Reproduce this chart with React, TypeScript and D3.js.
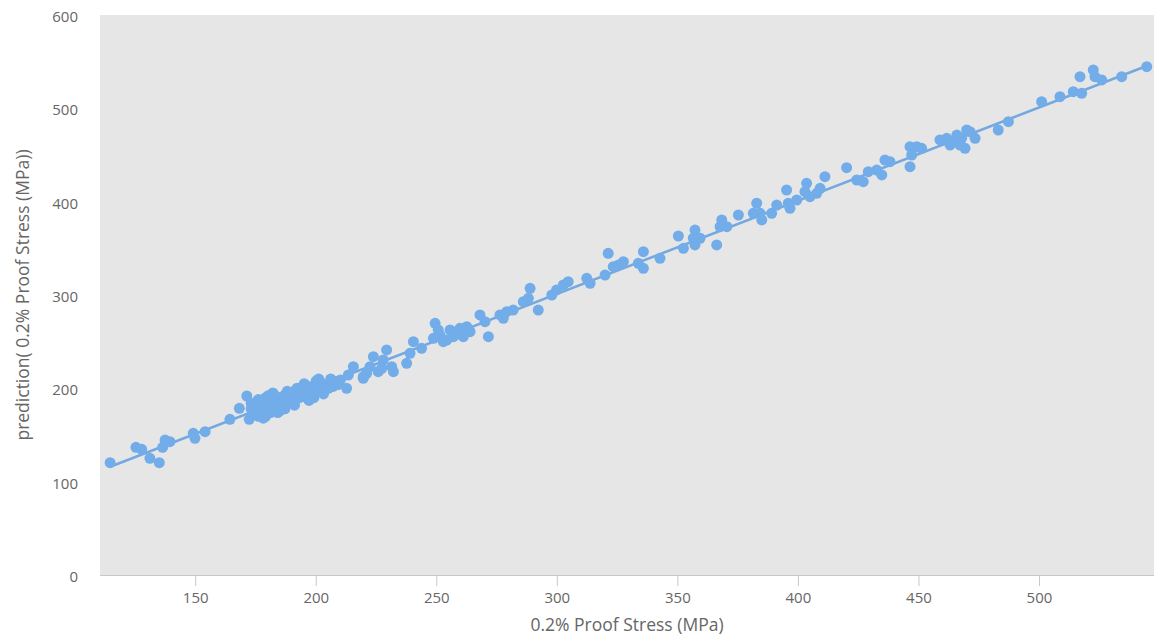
import React from "react";
import * as d3 from "d3";

// 0.2% Proof Stress (MPa) – measured
const actual = [
  114.5, 125.2, 127.6, 131.0, 134.9, 137.3, 136.3, 139.3, 149.0, 149.7, 153.9, 164.2, 168.1, 171.2, 172.2,
  173, 174, 175, 175, 176, 176, 177, 177, 178, 178, 179, 179, 180, 180, 181, 181, 182, 182, 183, 183,
  184, 184, 185, 185, 186, 186, 187, 187, 188, 188, 189, 189, 190, 190, 191, 191, 192, 193, 193, 194,
  195, 195, 196, 196, 197, 198, 198, 199, 200, 200, 201, 202, 202, 203, 204, 205, 206, 207, 208, 209, 210,
  176, 179, 182, 185, 188, 191, 194, 197, 200, 203, 206, 180, 184, 192, 199, 195, 187, 178, 173, 201,
  212.6, 215.4, 219.5, 213.3,
  220.9, 223.7, 229.2, 227.2, 231.3, 227.8, 219.5, 237.5, 240.3, 238.9, 243.7, 249.3, 248.6, 251.3, 252.7,
  255.5, 259.6, 263.8, 261.0, 256.9, 267.9, 271.4, 270.0, 276.2, 279.0, 281.7, 277.6, 285.9, 288.7, 288.0,
  292.1, 297.7, 299.7, 302.5, 304.5, 312.2, 313.6, 319.8, 321.1, 323.2, 327.4, 325.3,
  222.3, 225.7, 232.0, 254.1, 258.3, 250.6, 262.4,
  335.7, 335.7, 333.6, 342.6, 350.2, 352.3, 357.1, 357.1, 359.2, 356.4, 366.1, 368.2, 370.3, 367.5, 375.1,
  382.7, 381.3, 384.8, 384.1, 388.9, 391.0, 395.1, 395.8, 396.5, 399.3, 403.4, 404.8, 402.7, 407.6, 409.0,
  411.0, 420.0, 424.2, 426.9, 429.0, 432.5, 435.9, 434.6,
  438.0, 446.3, 449.1, 451.1, 447.0, 446.3, 458.7, 461.5, 463.6, 465.7, 467.7, 469.8, 471.2, 469.1, 467.0,
  473.3, 462.9, 482.9, 487.1, 500.9, 508.5, 514.0, 517.5, 516.8, 522.3, 523.0, 525.8, 534.1, 544.5
];

// prediction( 0.2% Proof Stress (MPa))
const predicted = [
  120.3, 136.8, 134.7, 125.0, 120.3, 144.6, 136.8, 142.8, 151.8, 146.5, 153.5, 166.8, 178.6, 191.8, 166.8,
  178, 172, 180, 185, 176, 170, 182, 187, 175, 179, 184, 190, 177, 186, 181, 174, 189, 184, 178, 192,
  186, 181, 190, 183, 188, 179, 193, 185, 189, 183, 195, 187, 191, 185, 197, 189, 193, 190, 196, 192,
  198, 191, 194, 200, 193, 197, 202, 195, 199, 204, 197, 201, 206, 199, 203, 200, 205, 202, 207, 204, 209,
  188, 170, 195, 176, 197, 182, 201, 187, 208, 194, 210, 192, 174, 200, 190, 205, 178, 168, 184, 210,
  200.0, 223.2, 210.8, 214.3,
  216.1, 233.9, 241.1, 221.5, 223.2, 230.4, 212.5, 226.8, 250.0, 237.5, 242.9, 269.7, 253.6, 257.1, 250.0,
  262.5, 264.3, 260.7, 255.3, 255.3, 278.6, 255.3, 271.4, 278.6, 282.1, 283.9, 275.0, 292.8, 307.2, 296.5,
  283.9, 300.0, 305.4, 310.7, 314.3, 317.9, 312.5, 321.4, 344.6, 330.3, 335.7, 332.1,
  223.2, 217.8, 217.8, 251.8, 259.0, 262.5, 266.1,
  346.4, 328.6, 334.0, 339.3, 363.2, 350.0, 369.6, 353.6, 360.8, 360.8, 353.6, 380.4, 373.2, 373.2, 385.7,
  398.3, 387.5, 380.4, 387.5, 387.5, 396.4, 412.5, 398.3, 392.9, 401.8, 419.7, 405.4, 410.7, 409.0, 414.3,
  426.8, 436.4, 423.2, 421.4, 432.1, 433.9, 444.6, 428.6,
  442.8, 458.9, 458.9, 457.1, 450.0, 437.5, 466.1, 467.9, 464.3, 471.4, 467.9, 476.8, 475.0, 457.1, 460.7,
  467.9, 460.7, 476.8, 485.7, 507.1, 512.5, 517.9, 516.1, 533.9, 541.1, 533.9, 530.4, 533.9, 544.6
];

const fitX = [114.5, 546];
const fitY = [116, 547];

const xTicks = [150, 200, 250, 300, 350, 400, 450, 500];
const yTicks = [0, 100, 200, 300, 400, 500, 600];

const xTitle = "0.2% Proof Stress (MPa)";
const yTitle = "prediction( 0.2% Proof Stress (MPa))";

export default function App() {
  const W = 1154;
  const H = 635;
  const left = 100;
  const right = 1154;
  const top = 15;
  const bottom = 575;

  const x = d3.scaleLinear().domain([110.3, 547.5]).range([left, right]);
  const y = d3.scaleLinear().domain([0, 600]).range([bottom, top]);

  const fitPts = fitX.map((v, i) => [v, fitY[i]] as [number, number]);
  const linePath = d3
    .line<[number, number]>()
    .x((d) => x(d[0]))
    .y((d) => y(d[1]))(fitPts);

  const font = "'Open Sans', 'DejaVu Sans', sans-serif";
  const textColor = "#666666";

  return (
    <svg
      width={W}
      height={H}
      style={{ position: "absolute", left: 0, top: 0, background: "#ffffff" }}
      fontFamily={font}
    >
      <rect x={left} y={top} width={right - left} height={bottom - top} fill="#e6e6e6" />

      <line x1={left} x2={right} y1={bottom + 0.5} y2={bottom + 0.5} stroke="#c8c8c8" strokeWidth={1} />
      {xTicks.map((t) => (
        <g key={"xt" + t}>
          <line x1={x(t)} x2={x(t)} y1={bottom} y2={bottom + 11} stroke="#c8c8c8" strokeWidth={1} />
          <text x={x(t)} y={bottom + 22} textAnchor="middle" dominantBaseline="central" fontSize={15} fill={textColor}>
            {t}
          </text>
        </g>
      ))}
      {yTicks.map((t) => (
        <text key={"yt" + t} x={78} y={y(t) + 1} textAnchor="end" dominantBaseline="central" fontSize={15} fill={textColor}>
          {t}
        </text>
      ))}

      <text x={(left + right) / 2} y={624} textAnchor="middle" dominantBaseline="central" fontSize={17.5} fill={textColor}>
        {xTitle}
      </text>
      <text
        transform={`translate(22, ${(top + bottom) / 2}) rotate(-90)`}
        textAnchor="middle"
        dominantBaseline="central"
        fontSize={17.5}
        fill={textColor}
      >
        {yTitle}
      </text>

      <g clipPath="url(#plotClip)">
        <defs>
          <clipPath id="plotClip">
            <rect x={left} y={top} width={right - left} height={bottom - top} />
          </clipPath>
        </defs>
        <path d={linePath ?? ""} fill="none" stroke="#74a8e0" strokeWidth={2.5} />
        {actual.map((v, i) => (
          <circle key={i} cx={x(v)} cy={y(predicted[i])} r={5.5} fill="#72adea" />
        ))}
      </g>
    </svg>
  );
}
